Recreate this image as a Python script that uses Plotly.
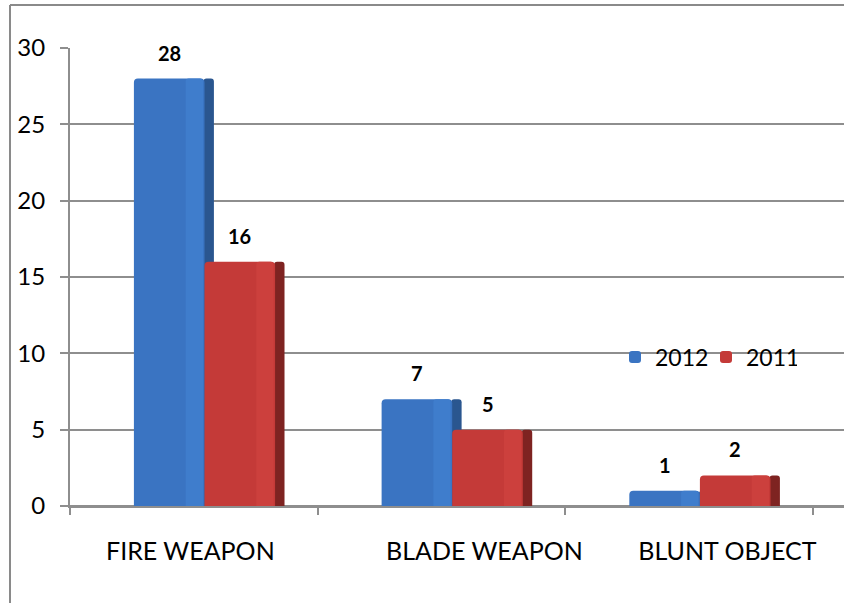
import plotly.graph_objects as go

# ---- data ----
categories = ["FIRE WEAPON", "BLADE WEAPON", "BLUNT OBJECT"]
values_2012 = [28, 7, 1]
values_2011 = [16, 5, 2]
series_names = ["2012", "2011"]
y_ticks = [0, 5, 10, 15, 20, 25, 30]

# ---- styling / geometry constants ----
FONT = "Lato, 'Open Sans', sans-serif"
GRID = "#8e8e8e"
BLUE, BLUE_LIGHT, BLUE_SIDE = "#3a74c2", "#3f7dcc", "#2a568f"
RED, RED_LIGHT, RED_SIDE = "#c43a38", "#cc403d", "#7e2321"
front_w = 0.285
side_w = 0.042
hl_w = 0.07
blue_off = -0.242
red_off = blue_off + front_w
label_shift = [-0.014, 0.173, 0.154]

W, H = 844, 603
L, R, T, B = 70, 0, 48, 97
pw, ph = W - L - R, H - T - B

x = list(range(len(categories)))

fig = go.Figure()

def add_series(vals, name, color, light, side_color, off):
    fig.add_trace(go.Bar(
        x=x, y=vals, width=side_w, offset=off + front_w - 0.004,
        marker=dict(color=side_color, line=dict(width=0), cornerradius=3),
        showlegend=False, hoverinfo="skip"))
    fig.add_trace(go.Bar(
        x=x, y=vals, width=front_w, offset=off, name=name,
        marker=dict(color=color, line=dict(width=0), cornerradius=4)))
    fig.add_trace(go.Bar(
        x=x, y=vals, width=hl_w, offset=off + front_w - hl_w - 0.006,
        marker=dict(color=light, line=dict(width=0), cornerradius=3),
        showlegend=False, hoverinfo="skip"))

add_series(values_2012, series_names[0], BLUE, BLUE_LIGHT, BLUE_SIDE, blue_off)
add_series(values_2011, series_names[1], RED, RED_LIGHT, RED_SIDE, red_off)

annotations = []
for vals, off in ((values_2012, blue_off), (values_2011, red_off)):
    for xi, v in zip(x, vals):
        annotations.append(dict(
            x=xi + off + front_w / 2, y=v, xref="x", yref="y",
            text=f"<b>{v}</b>", showarrow=False, yshift=26,
            font=dict(family=FONT, size=20, color="black")))

# chart frame (left and top border)
fx = -(L - 10) / pw
fy_top = 1 + (T - 5) / ph
fy_bot = -(B) / ph
shapes = [
    dict(type="line", xref="paper", yref="paper", x0=fx, x1=fx, y0=fy_bot, y1=fy_top,
         line=dict(color="#8a8a8a", width=2)),
    dict(type="line", xref="paper", yref="paper", x0=fx, x1=1.0, y0=fy_top, y1=fy_top,
         line=dict(color="#8a8a8a", width=2)),
]

n = len(categories)
xrange = [-0.5, -0.5 + pw / 247.7]

fig.update_layout(
    width=W, height=H,
    margin=dict(l=L, r=R, t=T, b=B, pad=0),
    paper_bgcolor="white", plot_bgcolor="white",
    barmode="overlay",
    font=dict(family=FONT, size=24, color="black"),
    showlegend=True,
    legend=dict(orientation="h", x=(632 - 70 - 17) / pw, xanchor="left",
                y=(506 - 357) / ph, yanchor="middle",
                bgcolor="rgba(0,0,0,0)", font=dict(size=23, family=FONT),
                itemwidth=30, entrywidth=46, entrywidthmode="pixels",
                traceorder="normal"),
    xaxis=dict(range=xrange, tickvals=[i + s for i, s in zip(x, label_shift)],
               ticktext=categories, ticks="", showgrid=False, zeroline=False,
               showline=True, linecolor=GRID, linewidth=2,
               tickfont=dict(size=25, family=FONT), ticklabelstandoff=22),
    xaxis2=dict(range=xrange, overlaying="x", anchor="y", side="bottom",
                tickvals=[i - 0.5 for i in range(n + 1)], showticklabels=False,
                ticks="outside", ticklen=8, tickwidth=2, tickcolor=GRID,
                showgrid=False, zeroline=False, showline=False),
    yaxis=dict(range=[0, 30], tickvals=y_ticks, showgrid=True, gridcolor=GRID,
               gridwidth=2, zeroline=True, zerolinecolor=GRID, zerolinewidth=2,
               showline=True, linecolor=GRID, linewidth=2,
               ticks="outside", ticklen=8, tickwidth=2, tickcolor=GRID,
               tickfont=dict(size=24, family=FONT), ticklabelstandoff=10),
    annotations=annotations,
    shapes=shapes,
)

# invisible trace to activate the boundary-tick axis
fig.add_trace(go.Scatter(x=[xrange[0]], y=[0], xaxis="x2", mode="markers",
                         marker=dict(opacity=0), showlegend=False, hoverinfo="skip"))

fig.write_html("out.html", config={"displayModeBar": False},
               post_script="document.body.style.margin='0';")
